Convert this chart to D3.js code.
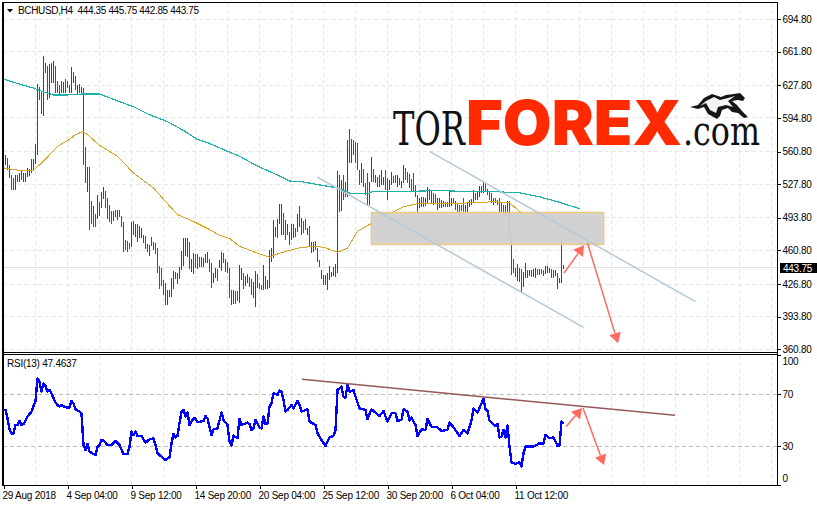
<!DOCTYPE html>
<html>
<head>
<meta charset="utf-8">
<script src="https://cdnjs.cloudflare.com/ajax/libs/d3/7.8.5/d3.min.js"></script>
<style>
html,body{margin:0;padding:0;background:#fff;overflow:hidden}
svg{display:block}
text{font-family:"Liberation Sans",Arial,sans-serif;font-size:10px;fill:#000;letter-spacing:-.25px}
</style>
</head>
<body>
<svg id="c" width="817" height="506"></svg>
<script>
// ---- DATA -----------------------------------------------------------------
const symbolTitle = "BCHUSD,H4  444.35 445.75 442.85 443.75";
const rsiTitle = "RSI(13) 47.4637";
const lastPrice = 443.75;
const priceTicks = [694.8,661.8,627.8,594.8,560.8,527.8,493.8,460.8,426.8,393.8,360.8];
const rsiTicks = [100,70,30,0];
const dateLabels = ["29 Aug 2018","4 Sep 04:00","9 Sep 12:00","14 Sep 20:00","20 Sep 04:00","25 Sep 12:00","30 Sep 20:00","6 Oct 04:00","11 Oct 12:00"];
// per 4H bar: high, low, direction (d = rising, r = falling)
const highs = [555,557,554,547,537,534,537,537,539,541,539,539,544,543,553,553,568,629,626,621,657,650,647,649,650,652,647,632,628,632,631,634,632,628,646,641,637,628,629,626,
625,565,545,545,511,506,498,517,510,520,525,521,514,507,501,501,502,502,502,496,490,471,470,468,490,491,487,487,485,483,476,475,467,466,474,469,468,463,445,443,
431,428,421,421,433,440,439,438,444,460,473,473,473,469,452,458,457,457,454,454,453,457,459,452,448,438,443,442,451,459,458,452,449,443,421,421,420,420,446,443,
438,435,437,434,432,429,440,437,428,426,446,435,431,461,463,492,484,493,508,508,499,492,487,479,488,488,483,498,506,494,491,493,483,485,469,469,470,463,451,441,
436,436,438,445,439,444,447,541,537,532,537,530,572,584,573,572,570,569,542,549,543,529,539,530,555,543,537,535,537,542,535,542,534,532,540,536,537,537,534,531,
547,544,540,538,533,539,527,517,514,515,515,514,525,523,522,519,518,514,514,512,511,510,510,521,514,514,511,509,507,507,514,507,509,512,513,522,519,520,526,526,
530,528,523,521,519,514,514,512,514,509,507,507,511,511,474,452,443,447,443,442,439,448,441,441,441,442,443,442,442,442,441,445,445,443,442,441,441,438,433,474,446];
const lows = [546,547,542,534,522,522,522,530,530,532,530,530,535,536,539,542,548,557,613,599,597,640,613,615,630,630,620,620,618,620,620,620,625,620,620,630,623,619,620,620,
547,529,520,481,487,484,484,493,496,504,513,504,493,490,488,491,495,492,495,484,459,461,459,462,464,476,474,469,473,473,468,462,459,455,465,461,457,438,422,425,
416,406,406,414,414,422,432,427,432,441,445,455,454,442,439,437,443,442,444,444,444,448,448,439,423,428,433,430,443,440,448,439,438,413,406,407,407,410,408,431,
422,425,428,424,416,413,404,423,422,421,421,422,422,423,449,453,474,473,488,476,476,471,476,466,471,473,474,479,484,476,478,481,476,464,458,459,461,449,444,432,
426,426,421,431,434,435,434,438,500,501,512,515,515,549,549,557,549,542,527,529,525,517,507,507,530,530,529,525,525,527,527,522,512,522,527,529,529,525,527,524,
529,532,529,524,520,520,515,498,504,505,505,506,509,512,509,507,508,502,504,504,505,505,505,505,506,509,502,499,494,501,499,499,500,505,507,509,512,512,515,519,
519,521,517,512,509,507,509,507,499,499,498,496,498,472,436,438,434,430,429,419,424,433,433,435,434,434,433,436,436,437,435,437,438,438,433,433,435,422,428,428,442];
const directions = "ddrrrddrdr"+"dddrddddrr"+"ddrdddrrrd"+"drrrdrrdrd"+"rrdrrrrdrd"+"drrrrdrdrr"+"rrrrdrdrdd"+"rrrdrdrrrr"+"rrddddrrdd"+"dddrddrrrd"
 +"dddrrddrdd"+"rrrrddrrdd"+"rddrrddrrr"+"drdddddrdd"+"rrdrddrdrd"+"rrdrddrrrr"+"rrdddddddd"+"rrdrdrrrrd"+"rrrddrdrdd"+"drrddrrdrd"
 +"drrdrrrrdd"+"rddrrrrdrd"+"rrddddrrrd"+"rddddddddd"+"drrrrdrrrr"+"rrdrrrddrr"+"ddrdrddrdr"+"rdddrrdrddr";
// moving averages, read at the bars where they change slope
const tealBars = [0,8,15,20,25,32,40,48,57,65,73,82,90,97,103,112,118,127,137,143,150,158,167,174,182,184,195,212,223,235,248,258,268,277,288];
const tealVals = [634,629,625,621,618,618,619,619,612,606,598,591,582,573,569,561,556,546,537,531,530,527,524,518,518,520,520,521,521,520,520,519,515,510,503];
const amberBars = [0,7,15,19,27,33,36,40,43,48,57,65,75,82,87,95,102,108,113,118,127,133,138,147,155,160,167,172,177,183,192,200,207,222,235,245,253,260,268,279];
const amberVals = [544,542,542,549,566,573,578,581,576,567,556,539,524,508,497,490,483,476,473,465,458,454,458,463,465,464,459,463,480,487,497,505,508,508,509,510,509,497,484,474];
// RSI(13)
const rsiBars = [0,1,2,3,4,5,6,7,8,9,10,12,14,15,16,17,18,19,20,21,22,23,24,25,26,27,28,29,31,33,34,35,36,38,39,40,41,42,43,45,46,47,48,49,50,52,54,56,58,60,62,63,64,65,66,67,69,71,73,75,76,77,80,81,83,84,85,86,87,88,89,90,91,92,93,95,96,97,100,101,102,104,105,107,109,110,112,113,114,115,117,118,119,122,123,124,125,126,128,129,130,131,132,133,134,135,137,138,
139,140,141,142,144,145,147,148,149,152,153,156,157,159,161,163,165,166,167,169,170,171,172,173,175,176,178,181,182,184,188,190,192,194,196,197,199,200,202,203,204,206,207,209,211,212,214,217,219,222,223,225,228,230,232,234,235,237,240,241,242,243,246,247,248,249,250,251,252,253,254,256,258,259,260,261,265,268,270,271,273,275,277,278,279,280];
const rsiVals = [58,58,51.5,43,40,40,46.4,46.4,49.5,46.4,47,52.8,56.7,61,64.4,82.3,79.7,72,78.5,76.4,72,73.3,70.8,67,63.6,61.8,60.5,61.8,60,60,64.9,63,58.5,56.7,55.4,31,27.2,31.8,25.9,24,23.3,29.7,31,34.9,34.4,31,31,34,31,24,24,29.7,41.3,38.7,41.3,38,38,32.8,35.4,36.2,31,24.6,20.8,19.5,21.5,32.3,39.5,36.9,38,47.7,56.7,58,52.8,56,46.4,51.5,51.5,48.5,49.5,53.3,51.5,38.7,43,43.8,55.9,50.3,46.4,33.6,30.5,38.2,36.2,51,46.4,48.2,47.2,42.6,43.8,50.3,44.4,43.8,52.8,47.2,47.2,60.5,63,70.8,69.5,72.8,
72,65.6,56.7,58,61.8,59.2,64.9,61.8,56.7,58.5,49,46.4,40,34.9,30.3,36.9,38,42.6,73.3,75.9,68.2,67.4,77.7,72,73.3,68.2,59.2,58,50.8,58.5,53.3,57.2,49,55.4,55.4,49.5,50.3,58.5,56.7,49.7,52,46.4,38,43,42.6,51,45,44.6,41.8,42.6,48.2,44.6,38,42.6,40,49.7,59.2,55.9,66.4,58.5,57.2,49.7,45.6,47.2,36.9,37.4,42.6,36.9,46,29.7,17.7,16.4,17.7,14.4,24.6,29.7,29.7,32.3,32.3,38.7,36.2,36.9,30.3,30.3,49,47.5];
// drawn annotations: [bar, value] pairs
const channelLines = [[[213,561],[346,409]],[[157,535],[290,383]]];
const zoneCorners = [[184,499],[300,467]];
const priceArrows = [[[280.25,438],[290.25,466]],[[292,468],[307.25,367]]];
const rsiTrend = [[149.25,81.5],[335.75,53.8]];
const rsiArrows = [[[281.25,45],[289.25,59.5]],[[289.75,59.5],[300.25,15.6]]];

// ---- SCALES ---------------------------------------------------------------
const svg = d3.select("#c");
const L = 3, R = 777.5, T = 2.5, MB = 352, RT = 354.5, RB = 485;
const x = d3.scaleLinear().domain([0,280]).range([3.5,563.5]);
const yP = d3.scaleLinear().domain([360.8,694.8]).range([349.3,19]);
const yR = d3.scaleLinear().domain([0,100]).range([485.3,355.3]);
const barsPerGrid = 16;
const gridBars = d3.range(0, 386, barsPerGrid);
const snap = v => Math.round(v-.5)+.5;

const defs = svg.append("defs");
defs.append("clipPath").attr("id","mainClip").append("rect").attr("x",L).attr("y",T).attr("width",R-L).attr("height",MB-T);
defs.append("clipPath").attr("id","rsiClip").append("rect").attr("x",L).attr("y",RT).attr("width",R-L).attr("height",RB-RT);
defs.append("filter").attr("id","soft").attr("x","-10%").attr("y","-30%").attr("width","120%").attr("height","160%")
  .append("feGaussianBlur").attr("stdDeviation",2);

// ---- GRID -----------------------------------------------------------------
const gridCol="#e6e6e6";
const main = svg.append("g").attr("clip-path","url(#mainClip)");
const rsiG = svg.append("g").attr("clip-path","url(#rsiClip)");
main.append("g").selectAll("line").data(gridBars).join("line")
  .attr("x1",d=>snap(x(d))).attr("x2",d=>snap(x(d))).attr("y1",T).attr("y2",MB)
  .attr("stroke",gridCol).attr("stroke-dasharray","4,3").attr("shape-rendering","crispEdges");
main.append("g").selectAll("line").data(priceTicks).join("line")
  .attr("y1",d=>snap(yP(d))).attr("y2",d=>snap(yP(d))).attr("x1",L).attr("x2",R)
  .attr("stroke",gridCol).attr("stroke-dasharray","4,3").attr("shape-rendering","crispEdges");
main.append("line").attr("x1",L).attr("x2",R).attr("y1",snap(yP(lastPrice))).attr("y2",snap(yP(lastPrice)))
  .attr("stroke","#e2e2e2").attr("shape-rendering","crispEdges");
rsiG.append("g").selectAll("line").data(gridBars).join("line")
  .attr("x1",d=>snap(x(d))).attr("x2",d=>snap(x(d))).attr("y1",RT).attr("y2",RB)
  .attr("stroke",gridCol).attr("stroke-dasharray","4,3").attr("shape-rendering","crispEdges");
rsiG.append("g").selectAll("line").data([70,30]).join("line")
  .attr("y1",d=>snap(yR(d))).attr("y2",d=>snap(yR(d))).attr("x1",L).attr("x2",R)
  .attr("stroke","#bdbdbd").attr("stroke-dasharray","4,3").attr("shape-rendering","crispEdges");

// ---- LOGO (behind the marks) ----------------------------------------------
const logo = svg.append("g");
function fitWord(word, left, baseline, width, family, size, weight, fill){
  const t = logo.append("text").text(word)
    .style("font-family",family).style("font-size",size+"px").style("font-weight",weight)
    .style("letter-spacing","0").style("fill",fill);
  const natural = t.node().getComputedTextLength();
  t.attr("transform",`translate(${left},${baseline}) scale(${width/natural},1)`);
}
const slab = "'DejaVu Serif Condensed','DejaVu Serif',serif";
fitWord("TOR",393,144.5,72,slab,46,400,"#111");
fitWord("FOREX",466,145,216,"Inter,Roboto,sans-serif",62,900,"#ff2a00");
fitWord(".com",683,144.5,77,slab,41,400,"#111");
const bull = logo.append("g").attr("transform","translate(690,92)");
bull.append("path").attr("d","M0,15 L8,13 L14,6 L22,2 L31,5 L36,3 L44,2 L50,1 L55,6 L53,9 L48,8 L42,9 L47,13 L52,19 L58,25 L54,26 L48,21 L42,20 L38,16 L32,18 L30,24 L27,27 L18,22 L14,15 L8,17 Z")
  .attr("fill","#151515");
bull.append("path").attr("d","M10,14 L16,9 L24,5 L30,8 L38,6 L45,4 L38,9 L43,15 L36,13 L28,15 L26,21 L20,18 L16,11 Z").attr("fill","#f3f3f3");

// ---- PRICE BARS -----------------------------------------------------------
const bars = highs.map((h,i)=>({i,h,l:lows[i],d:directions[i]}));
main.append("g").attr("shape-rendering","crispEdges").selectAll("line").data(bars).join("line")
  .attr("x1",d=>x(d.i)).attr("x2",d=>x(d.i)).attr("y1",d=>yP(d.h)).attr("y2",d=>yP(d.l))
  .attr("stroke",d=>d.d==="r"?"#ee0a0a":"#2f4f4f");

// ---- MOVING AVERAGES ------------------------------------------------------
const lineP = d3.line().x(d=>x(d[0])).y(d=>yP(d[1]));
main.append("path").attr("d",lineP(d3.zip(tealBars,tealVals))).attr("fill","none").attr("stroke","#20b2aa").attr("stroke-width",1.2).attr("shape-rendering","crispEdges");
main.append("path").attr("d",lineP(d3.zip(amberBars,amberVals))).attr("fill","none").attr("stroke","#daa520").attr("stroke-width",1).attr("shape-rendering","crispEdges");

// ---- ZONE, CHANNELS, ARROWS ----------------------------------------------
const arrowCol="#ff6a60";
function drawArrow(g,from,to,py,len,half){
  const a=[x(from[0]),py(from[1])], b=[x(to[0]),py(to[1])];
  const dx=b[0]-a[0], dy=b[1]-a[1], n=Math.hypot(dx,dy), ux=dx/n, uy=dy/n;
  g.append("line").attr("x1",a[0]).attr("y1",a[1]).attr("x2",b[0]-ux*len).attr("y2",b[1]-uy*len)
    .attr("stroke",arrowCol).attr("stroke-width",1.5);
  const bx=b[0]-ux*len, by=b[1]-uy*len;
  g.append("path").attr("d",`M${b[0]},${b[1]}L${bx-uy*half},${by+ux*half}L${bx+uy*half},${by-ux*half}Z`).attr("fill",arrowCol);
}
const zx0=x(zoneCorners[0][0]), zx1=x(zoneCorners[1][0]), zy0=yP(zoneCorners[0][1]), zy1=yP(zoneCorners[1][1]);
main.append("rect").attr("x",zx0).attr("y",zy0).attr("width",zx1-zx0).attr("height",zy1-zy0)
  .attr("fill","#c8c8c8").attr("opacity",.7).attr("filter","url(#soft)");
main.append("rect").attr("x",zx0).attr("y",zy0).attr("width",zx1-zx0).attr("height",zy1-zy0)
  .attr("fill","#cfcfcf").attr("fill-opacity",.8).attr("stroke","#f2c76c").attr("stroke-width",1.2);
main.append("g").selectAll("line").data(channelLines).join("line")
  .attr("x1",d=>x(d[0][0])).attr("y1",d=>yP(d[0][1])).attr("x2",d=>x(d[1][0])).attr("y2",d=>yP(d[1][1]))
  .attr("stroke","#b3c9d8").attr("stroke-width",1.5);
priceArrows.forEach(a=>drawArrow(main,a[0],a[1],yP,10,6));

// ---- RSI ------------------------------------------------------------------
const lineR = d3.line().x(d=>x(d[0])).y(d=>yR(d[1]));
rsiG.append("path").attr("d",lineR(d3.zip(rsiBars,rsiVals))).attr("fill","none").attr("stroke","#0000ff").attr("stroke-width",2.4).attr("stroke-linejoin","round").attr("shape-rendering","crispEdges");
rsiG.append("line").attr("x1",x(rsiTrend[0][0])).attr("y1",yR(rsiTrend[0][1])).attr("x2",x(rsiTrend[1][0])).attr("y2",yR(rsiTrend[1][1]))
  .attr("stroke","#96585a").attr("stroke-width",1.5);
rsiArrows.forEach(a=>drawArrow(rsiG,a[0],a[1],yR,10,6));

// ---- FRAME ----------------------------------------------------------------
const frame = svg.append("g").attr("stroke","#000").attr("shape-rendering","crispEdges").attr("fill","none");
frame.append("line").attr("x1",2.5).attr("x2",2.5).attr("y1",2).attr("y2",486).attr("stroke-width",2);
frame.append("line").attr("x1",2).attr("x2",778).attr("y1",2.5).attr("y2",2.5).attr("stroke-width",1);
frame.append("line").attr("x1",R).attr("x2",R).attr("y1",2).attr("y2",486);
frame.append("line").attr("x1",2).attr("x2",778).attr("y1",352.5).attr("y2",352.5);
frame.append("line").attr("x1",2).attr("x2",778).attr("y1",354.5).attr("y2",354.5);
frame.append("line").attr("x1",2).attr("x2",778).attr("y1",485.5).attr("y2",485.5);

// ---- AXES -----------------------------------------------------------------
const yAxis = svg.append("g").attr("transform",`translate(${R},0)`)
  .call(d3.axisRight(yP).tickValues(priceTicks).tickFormat(d3.format(".2f")).tickSize(3).tickPadding(2));
const rAxis = svg.append("g").attr("transform",`translate(${R},0)`)
  .call(d3.axisRight(yR).tickValues(rsiTicks).tickFormat(d3.format("d")).tickSize(3).tickPadding(2));
const xAxis = svg.append("g").attr("transform",`translate(0,${RB})`)
  .call(d3.axisBottom(x).tickValues(dateLabels.map((_,i)=>i*2*barsPerGrid)).tickFormat((d,i)=>dateLabels[i]).tickSize(4).tickPadding(3));
[yAxis,rAxis,xAxis].forEach(a=>{
  a.select(".domain").remove();
  a.selectAll("line").attr("stroke","#000").attr("shape-rendering","crispEdges");
  a.selectAll("text").style("font-family","'Liberation Sans',Arial,sans-serif").style("font-size","10px").attr("fill","#000");
});
xAxis.selectAll("text").attr("text-anchor","start").attr("dx",-1.5);
rAxis.selectAll(".tick text").attr("dy",function(d){return d===100?"9.5":d===0?"-3.4":".32em"});

// ---- LAST PRICE BADGE ------------------------------------------------------
svg.append("rect").attr("x",780).attr("y",snap(yP(lastPrice))-4.5).attr("width",37).attr("height",10).attr("fill","#000");
svg.append("text").text(d3.format(".2f")(lastPrice)).attr("x",783).attr("y",snap(yP(lastPrice))+4).style("fill","#fff");

// ---- TITLES ----------------------------------------------------------------
svg.append("path").attr("d",d3.line()([[7,9],[13,9],[10,12.5]])+"Z").attr("fill","#000");
svg.append("text").text(symbolTitle).attr("x",18).attr("y",14).style("white-space","pre").style("letter-spacing","-.35px");
svg.append("text").text(rsiTitle).attr("x",7).attr("y",367);
</script>
</body>
</html>
